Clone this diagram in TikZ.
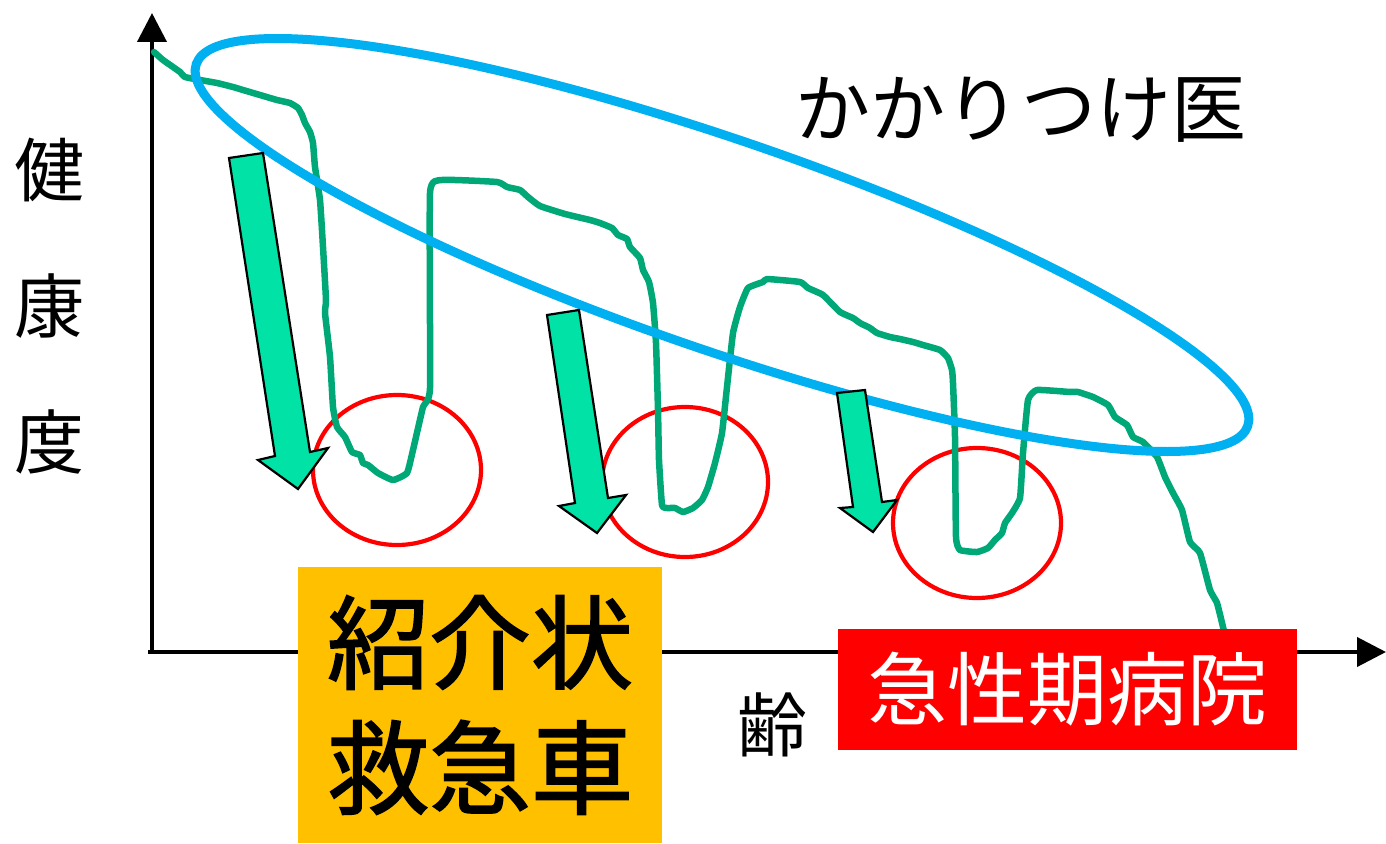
\documentclass[tikz,border=0pt]{standalone}
\usepackage{fontspec}
\newfontfamily\jp{Noto Sans CJK JP}
\newfontfamily\jpheavy[FakeBold=1.6]{Noto Sans CJK JP}
\usetikzlibrary{arrows.meta}
\definecolor{curvegreen}{RGB}{0,168,120}
\definecolor{arrowgreen}{RGB}{0,226,166}
\definecolor{ellblue}{RGB}{0,176,240}
\definecolor{boxorange}{RGB}{255,192,0}
\definecolor{boxred}{RGB}{255,0,0}
\tikzset{
  axisline/.style={line width=4pt,-{Triangle[length=29pt,width=29pt]}},
  healthcurve/.style={curvegreen,line width=6.5pt,line join=round,line cap=round},
  famdoc/.style={ellblue,line width=9pt},
  crisis/.style={boxred,line width=4.2pt},
  droparrow/.style={fill=arrowgreen,draw=black,line width=2.2pt,line join=miter},
  jplabel/.style={font=\jp,inner sep=0pt,anchor=center},
}
\begin{document}
\begin{tikzpicture}[x=1pt,y=-1pt]
\useasboundingbox (0,0) rectangle (1386,843);
% axes
\coordinate (o) at (152,652);
\coordinate (ytop) at (152,13);
\coordinate (xo) at (148,652);
\coordinate (xend) at (1386,652);
\draw[axisline] (o) -- (ytop);
\draw[axisline] (xo) -- (xend);
% red circles
\draw[crisis] (397,470) ellipse [x radius=84, y radius=75];
\draw[crisis] (685,482) ellipse [x radius=83, y radius=75];
\draw[crisis] (977,523) ellipse [x radius=84, y radius=75];
% health curve
\draw[healthcurve] plot[smooth,tension=0.25] coordinates {
(154,52) (163,60) (173,67) (180,72) (185,77) (200,80) (217,83) (233,87) (243,90)
(260,95) (277,100) (290,103) (298,108) (302,115) (305,123) (310,132) (313,143)
(315,167) (320,200) (323,247) (326,300) (325,313) (330,357) (333,407) (337,427)
(345,437) (352,452) (360,455) (363,463) (368,465) (378,473) (393,480) (407,473)
(413,450) (423,407) (430,388) (430,193) (442,180) (497,182) (507,187) (520,190)
(528,197) (540,206) (565,214) (590,220) (600,223) (612,228) (618,235) (627,239)
(630,247) (640,258) (643,270) (649,282) (653,303) (656,343) (658,410) (659,460)
(662,505) (667,508) (675,508) (683,512) (693,508) (702,500) (708,487) (715,463)
(722,433) (727,387) (733,333) (740,307) (748,288) (763,282) (767,279) (800,282)
(808,288) (823,295) (840,312) (853,318) (860,323) (870,328) (877,333) (890,337)
(900,339) (913,342) (923,345) (940,350) (948,358) (952,370) (953,383) (955,437)
(956,537) (960,550) (977,552) (988,548) (995,540) (1002,533) (1005,523) (1012,513)
(1020,498) (1023,453) (1028,400) (1037,390) (1070,392) (1078,392) (1093,397)
(1108,405) (1115,417) (1127,425) (1133,437) (1143,442) (1157,457) (1165,477)
(1173,493) (1182,510) (1190,542) (1200,553) (1210,590) (1217,603) (1223,627) (1226,640)};
% family doctor ellipse
\draw[famdoc,rotate around={-19:(722,245)}] (722,245) ellipse [x radius=556, y radius=105];
% drop arrows
\draw[droparrow] (229,158) -- (263,153) -- (310,452) -- (328,448) -- (298,489) -- (258,460) -- (275,456) -- cycle;
\draw[droparrow] (547,315) -- (579,310) -- (608,498) -- (626,495) -- (597,533) -- (559,506) -- (575,503) -- cycle;
\draw[droparrow] (837,393) -- (865,390) -- (882,502) -- (897,500) -- (873,532) -- (840,508) -- (853,507) -- cycle;
% boxes
\node[jplabel,fill=boxorange,minimum width=364pt,minimum height=276pt,align=center,
  font=\jpheavy\fontsize{102}{125}\selectfont] (referral) at (480,705) {紹介状\\救急車};
\node[jplabel,fill=boxred,text=white,minimum width=459pt,minimum height=121pt,
  font=\jp\fontsize{80}{90}\selectfont] (hospital) at (1067.5,689.5) {急性期病院};
% labels
\node[jplabel,font=\jp\fontsize{75}{80}\selectfont] (kakari) at (1021,110) {かかりつけ医};
\node[jplabel,font=\jp\fontsize{70}{75}\selectfont] (ken) at (49,170) {健};
\node[jplabel,font=\jp\fontsize{70}{75}\selectfont] (kou) at (49,306) {康};
\node[jplabel,font=\jp\fontsize{70}{75}\selectfont] (do) at (49,442) {度};
\node[jplabel,font=\jp\fontsize{70}{75}\selectfont] (rei) at (772,725) {齢};
\end{tikzpicture}
\end{document}
